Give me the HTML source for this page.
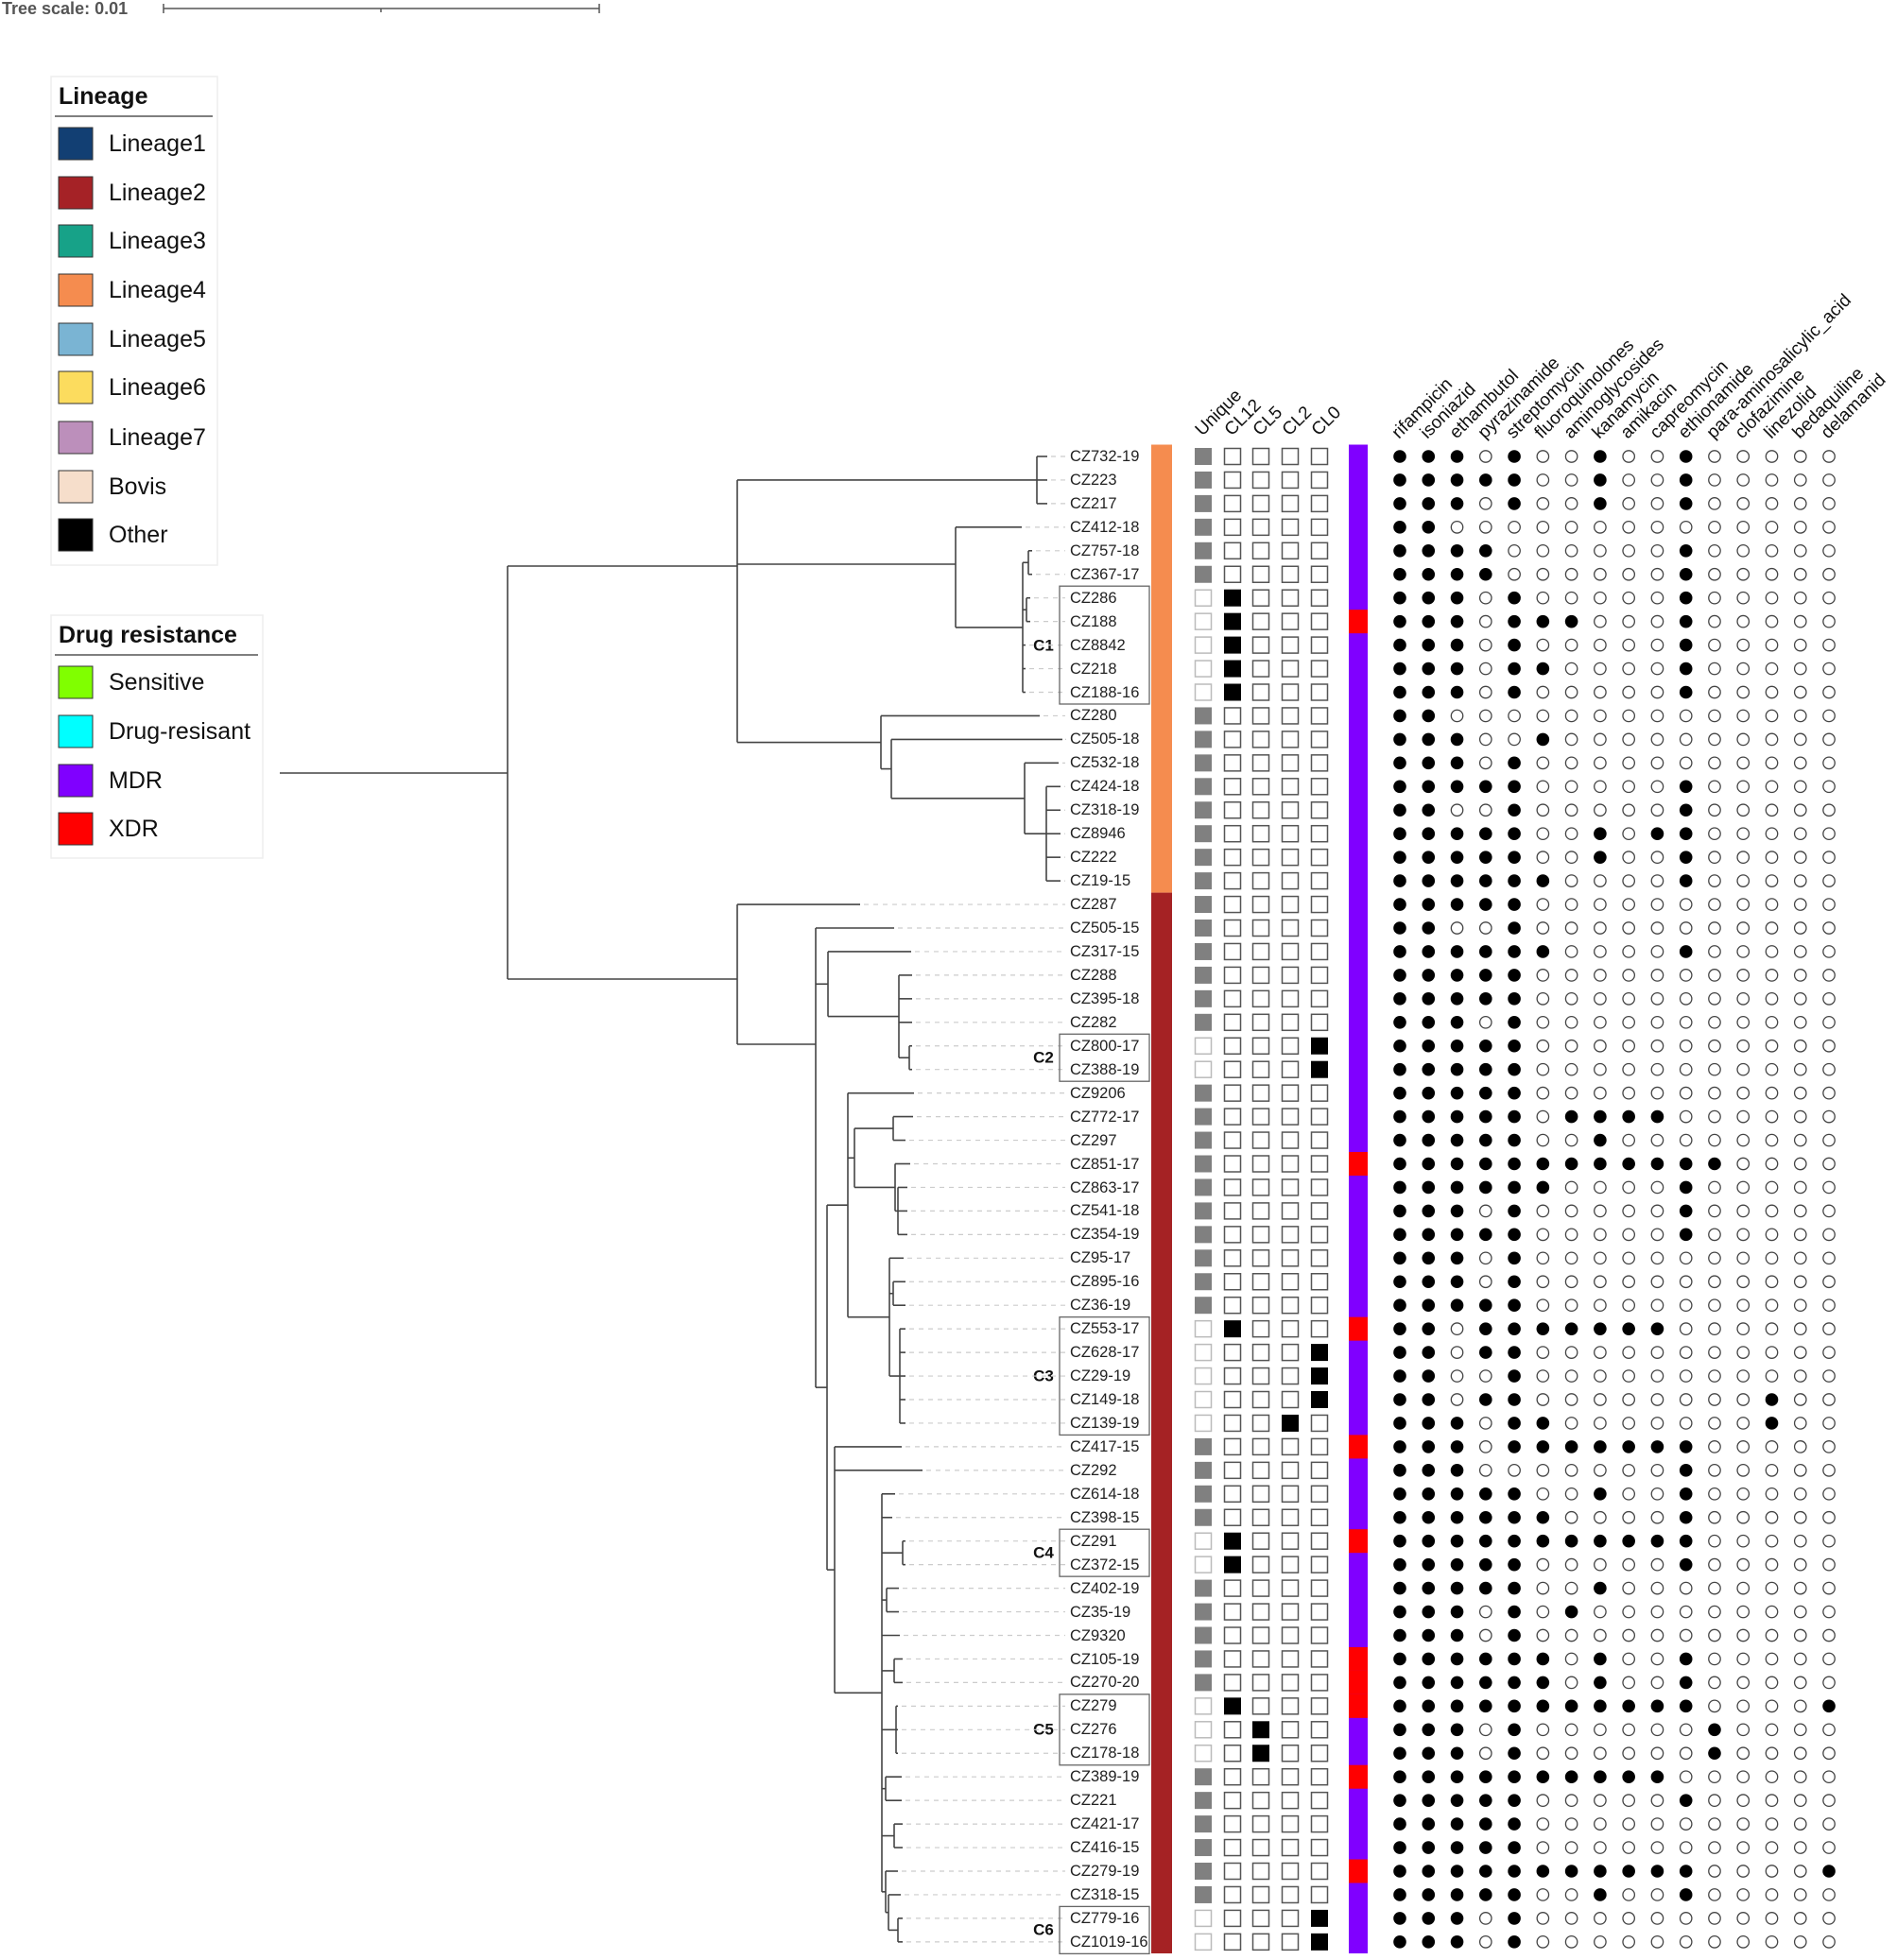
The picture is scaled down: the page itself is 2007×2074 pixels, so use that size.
<!DOCTYPE html>
<html><head><meta charset="utf-8"><style>
html,body{margin:0;padding:0;background:#fff;}
svg{display:block;font-family:"Liberation Sans",Arial,sans-serif;}
</style></head><body>
<svg id="s" width="2007" height="2074" viewBox="0 0 2007 2074" xmlns="http://www.w3.org/2000/svg">
<rect width="2007" height="2074" fill="#fff"/>
<text x="2" y="15" font-size="18" font-weight="bold" fill="#555">Tree scale: 0.01</text>
<g stroke="#555" stroke-width="1.5"><line x1="173" y1="9" x2="634" y2="9"/><line x1="173" y1="4" x2="173" y2="14"/><line x1="634" y1="4" x2="634" y2="14"/><line x1="403" y1="9" x2="403" y2="13"/></g>
<rect x="54" y="81" width="176" height="517" fill="#fff" stroke="#eee" stroke-width="1.5"/>
<text x="62" y="110" font-size="25" font-weight="bold" fill="#111">Lineage</text>
<line x1="58" y1="123" x2="225" y2="123" stroke="#555" stroke-width="1.5"/>
<g stroke="#333" stroke-width="1">
<rect x="62" y="135" width="36" height="34" fill="#123f73"/>
<rect x="62" y="187" width="36" height="34" fill="#a52226"/>
<rect x="62" y="238" width="36" height="34" fill="#17a288"/>
<rect x="62" y="290" width="36" height="34" fill="#f58c4f"/>
<rect x="62" y="342" width="36" height="34" fill="#7ab4d3"/>
<rect x="62" y="393" width="36" height="34" fill="#fcdc5e"/>
<rect x="62" y="446" width="36" height="34" fill="#bc8fbb"/>
<rect x="62" y="498" width="36" height="34" fill="#f6decb"/>
<rect x="62" y="549" width="36" height="34" fill="#000"/>
</g>
<g font-size="25" fill="#111" dominant-baseline="central">
<text x="115" y="152">Lineage1</text><text x="115" y="204">Lineage2</text><text x="115" y="255">Lineage3</text><text x="115" y="307">Lineage4</text><text x="115" y="359">Lineage5</text><text x="115" y="410">Lineage6</text><text x="115" y="463">Lineage7</text><text x="115" y="515">Bovis</text><text x="115" y="566">Other</text>
</g>
<rect x="54" y="651" width="224" height="257" fill="#fff" stroke="#eee" stroke-width="1.5"/>
<text x="62" y="680" font-size="25" font-weight="bold" fill="#111">Drug resistance</text>
<line x1="58" y1="693" x2="273" y2="693" stroke="#555" stroke-width="1.5"/>
<g stroke="#333" stroke-width="1">
<rect x="62" y="705" width="36" height="34" fill="#80ff00"/>
<rect x="62" y="757" width="36" height="34" fill="#00ffff"/>
<rect x="62" y="809" width="36" height="34" fill="#8000ff"/>
<rect x="62" y="860" width="36" height="34" fill="#ff0000"/>
</g>
<g font-size="25" fill="#111" dominant-baseline="central">
<text x="115" y="722">Sensitive</text><text x="115" y="774">Drug-resisant</text><text x="115" y="826">MDR</text><text x="115" y="877">XDR</text>
</g>
<g font-size="19" fill="#111">
<text transform="translate(1272,462) rotate(-45)">Unique</text>
<text transform="translate(1303,462) rotate(-45)">CL12</text>
<text transform="translate(1333,462) rotate(-45)">CL5</text>
<text transform="translate(1364,462) rotate(-45)">CL2</text>
<text transform="translate(1395,462) rotate(-45)">CL0</text>
<text transform="translate(1480,465) rotate(-45)">rifampicin</text>
<text transform="translate(1510,465) rotate(-45)">isoniazid</text>
<text transform="translate(1541,465) rotate(-45)">ethambutol</text>
<text transform="translate(1571,465) rotate(-45)">pyrazinamide</text>
<text transform="translate(1601,465) rotate(-45)">streptomycin</text>
<text transform="translate(1631,465) rotate(-45)">fluoroquinolones</text>
<text transform="translate(1662,465) rotate(-45)">aminoglycosides</text>
<text transform="translate(1692,465) rotate(-45)">kanamycin</text>
<text transform="translate(1722,465) rotate(-45)">amikacin</text>
<text transform="translate(1753,465) rotate(-45)">capreomycin</text>
<text transform="translate(1783,465) rotate(-45)">ethionamide</text>
<text transform="translate(1813,465) rotate(-45)">para-aminosalicylic_acid</text>
<text transform="translate(1843,465) rotate(-45)">clofazimine</text>
<text transform="translate(1874,465) rotate(-45)">linezolid</text>
<text transform="translate(1904,465) rotate(-45)">bedaquiline</text>
<text transform="translate(1934,465) rotate(-45)">delamanid</text>
</g>
<g font-size="16.5" fill="#222" dominant-baseline="central">
<text x="1132" y="483">CZ732-19</text><text x="1132" y="508">CZ223</text><text x="1132" y="533">CZ217</text><text x="1132" y="558">CZ412-18</text><text x="1132" y="583">CZ757-18</text><text x="1132" y="608">CZ367-17</text><text x="1132" y="633">CZ286</text><text x="1132" y="658">CZ188</text><text x="1132" y="683">CZ8842</text><text x="1132" y="708">CZ218</text><text x="1132" y="733">CZ188-16</text><text x="1132" y="757">CZ280</text><text x="1132" y="782">CZ505-18</text><text x="1132" y="807">CZ532-18</text><text x="1132" y="832">CZ424-18</text><text x="1132" y="857">CZ318-19</text><text x="1132" y="882">CZ8946</text><text x="1132" y="907">CZ222</text><text x="1132" y="932">CZ19-15</text><text x="1132" y="957">CZ287</text><text x="1132" y="982">CZ505-15</text><text x="1132" y="1007">CZ317-15</text><text x="1132" y="1032">CZ288</text><text x="1132" y="1057">CZ395-18</text><text x="1132" y="1082">CZ282</text><text x="1132" y="1107">CZ800-17</text><text x="1132" y="1132">CZ388-19</text><text x="1132" y="1157">CZ9206</text><text x="1132" y="1182">CZ772-17</text><text x="1132" y="1207">CZ297</text><text x="1132" y="1232">CZ851-17</text><text x="1132" y="1257">CZ863-17</text><text x="1132" y="1281">CZ541-18</text><text x="1132" y="1306">CZ354-19</text><text x="1132" y="1331">CZ95-17</text><text x="1132" y="1356">CZ895-16</text><text x="1132" y="1381">CZ36-19</text><text x="1132" y="1406">CZ553-17</text><text x="1132" y="1431">CZ628-17</text><text x="1132" y="1456">CZ29-19</text><text x="1132" y="1481">CZ149-18</text><text x="1132" y="1506">CZ139-19</text><text x="1132" y="1531">CZ417-15</text><text x="1132" y="1556">CZ292</text><text x="1132" y="1581">CZ614-18</text><text x="1132" y="1606">CZ398-15</text><text x="1132" y="1631">CZ291</text><text x="1132" y="1656">CZ372-15</text><text x="1132" y="1681">CZ402-19</text><text x="1132" y="1706">CZ35-19</text><text x="1132" y="1731">CZ9320</text><text x="1132" y="1756">CZ105-19</text><text x="1132" y="1780">CZ270-20</text><text x="1132" y="1805">CZ279</text><text x="1132" y="1830">CZ276</text><text x="1132" y="1855">CZ178-18</text><text x="1132" y="1880">CZ389-19</text><text x="1132" y="1905">CZ221</text><text x="1132" y="1930">CZ421-17</text><text x="1132" y="1955">CZ416-15</text><text x="1132" y="1980">CZ279-19</text><text x="1132" y="2005">CZ318-15</text><text x="1132" y="2030">CZ779-16</text><text x="1132" y="2055">CZ1019-16</text>
</g>
<g font-size="17" font-weight="bold" fill="#111" dominant-baseline="central" text-anchor="middle">
<text x="1104" y="683">C1</text><text x="1104" y="1119">C2</text><text x="1104" y="1456">C3</text><text x="1104" y="1643">C4</text><text x="1104" y="1830">C5</text><text x="1104" y="2042">C6</text>
</g>
<g id="g"></g>
</svg>
<script>
(function(){
var NS="http://www.w3.org/2000/svg",g=document.getElementById("g");
function R(n){return 483+(n-1)*24.95;}
function el(t,a){var e=document.createElementNS(NS,t);for(var k in a)e.setAttribute(k,a[k]);g.appendChild(e);return e;}
function L(x1,y1,x2,y2,c,w,d){var a={x1:x1,y1:y1,x2:x2,y2:y2,stroke:c||"#444","stroke-width":w||1.6};if(d)a["stroke-dasharray"]=d;el("line",a);}
function lf(r,t){return {leaf:1,r:r,t:t};}
function nd(x,c,yo){return {x:x,c:c,yo:yo};}
function lv(rs,t){return rs.map(function(r){return lf(r,t);});}
function y(n){ if(n.leaf) return R(n.r); if(n.yo) return n.yo; var a=y(n.c[0]),b=y(n.c[n.c.length-1]); return (a+b)/2; }
function draw(n,px){
  var yy=y(n);
  if(n.leaf){L(px,yy,n.t,yy);L(n.t+4,yy,1127,yy,"#ccc",1.2,"5,5");return;}
  L(px,yy,n.x,yy);
  var ys=n.c.map(y).concat([yy]);L(n.x,Math.min.apply(0,ys),n.x,Math.max.apply(0,ys));
  n.c.forEach(function(c){draw(c,n.x);});
}
var A=nd(780,[nd(1097,lv([1,2,3],1108)),
  nd(1011,[lf(4,1081),nd(1082,[nd(1088,lv([5,6],1092)),nd(1086,lv([7,8],1090)),lf(9,1085),lf(10,1085),lf(11,1085)])],597),
  nd(932,[lf(12,1100),nd(943,[lf(13,1124),nd(1084,[lf(14,1120),nd(1107,lv([15,16,17,18,19],1122))])])])],599);
var B=nd(780,[lf(20,910),
  nd(863,[lf(21,946),
    nd(876,[lf(22,964),nd(951,lv([23,24,25],965).concat([nd(962,lv([26,27],965))]))]),
    nd(875,[
      nd(897,[lf(28,967),
        nd(904,[nd(945,[lf(29,966),lf(30,958)]),nd(947,[lf(31,963),nd(950,lv([32,33,34],960))])]),
        nd(941,[lf(35,956),nd(945,lv([36,37],958)),nd(952,lv([38,39,40,41,42],958))])]),
      nd(883,[lf(43,954),lf(44,976),
        nd(933,[lf(45,947),lf(46,944),nd(955,lv([47,48],958)),nd(938,lv([49,50],951)),lf(51,952),
          nd(946,lv([52,53],955)),nd(948,lv([54,55,56],950)),nd(937,lv([57,58],954)),nd(946,lv([59,60],955)),
          nd(937,[lf(61,950),nd(940,[lf(62,953),nd(950,lv([63,64],955))])])])])])],1105)],1036);
var root=nd(537,[A,B],818);
draw(root,296);
[[7,11],[26,27],[38,42],[47,48],[54,56],[63,64]].forEach(function(b){
  el("rect",{x:1121,y:R(b[0])-12.5,width:95,height:R(b[1])-R(b[0])+25,fill:"none",stroke:"#666","stroke-width":1.3});});
el("rect",{x:1218,y:470.5,width:22,height:R(19)+12.5-470.5,fill:"#f58c4f"});
el("rect",{x:1218,y:R(19)+12.5,width:22,height:2067-R(19)-12.5,fill:"#a52224"});
el("rect",{x:1427,y:470.5,width:20,height:2067-470.5,fill:"#8000ff"});
[8,31,38,43,47,52,53,54,57,61].forEach(function(r){el("rect",{x:1427,y:R(r)-12.5,width:20,height:25,fill:"#ff0000"});});
var cl={7:1,8:1,9:1,10:1,11:1,26:4,27:4,38:1,39:4,40:4,41:4,42:3,47:1,48:1,54:1,55:2,56:2,63:4,64:4};
var sx=[1273,1304,1334,1365,1396];
for(var r=1;r<=64;r++){
  var yy=R(r),c=cl[r];
  if(!c) el("rect",{x:sx[0]-9,y:yy-9,width:18,height:18,fill:"#808080"});
  else el("rect",{x:sx[0]-8.5,y:yy-8.5,width:17,height:17,fill:"#fff",stroke:"#bbb","stroke-width":1.5});
  for(var j=1;j<5;j++){
    if(c===j) el("rect",{x:sx[j]-9,y:yy-9,width:18,height:18,fill:"#000"});
    else el("rect",{x:sx[j]-8.5,y:yy-8.5,width:17,height:17,fill:"#fff",stroke:"#555","stroke-width":1.5});
  }
}
var D=["1110100100100000","1111100100100000","1110100100100000","1100000000000000","1111000000100000","1111000000100000","1110100000100000","1110111000100000","1110100000100000","1110110000100000","1110100000100000","1100000000000000","1110010000000000","1110100000000000","1111100000100000","1100100000100000",
"1111100101100000","1111100100100000","1111110000100000","1111100000000000","1100100000000000","1111110000100000","1111100000000000","1111100000000000","1110100000000000","1111100000000000","1111100000000000","1111100000000000","1111101111000000","1111100100000000","1111111111110000","1111110000100000",
"1110100000100000","1111100000100000","1110100000000000","1110100000000000","1111100000000000","1101111111000000","1101100000000000","1100100000000000","1101100000000100","1110110000000100","1110111111100000","1110000000100000","1111100100100000","1111110000100000","1111111111100000","1111100000100000",
"1111100100000000","1110101000000000","1110100000000000","1111110100100000","1111110100100000","1111111111100001","1110100000010000","1110100000010000","1111111111000000","1111100000100000","1111100000000000","1111100000000000","1111111111100001","1111100100100000","1110100000000000","1110100000000000"];
for(var r=0;r<64;r++){var yy=R(r+1);for(var i=0;i<16;i++){var x=1481+i*30.27;
  if(D[r][i]==="1") el("circle",{cx:x,cy:yy,r:6.8,fill:"#000"});
  else el("circle",{cx:x,cy:yy,r:6.2,fill:"#fff",stroke:"#444","stroke-width":1.3});}}
})();
</script>
</body></html>
